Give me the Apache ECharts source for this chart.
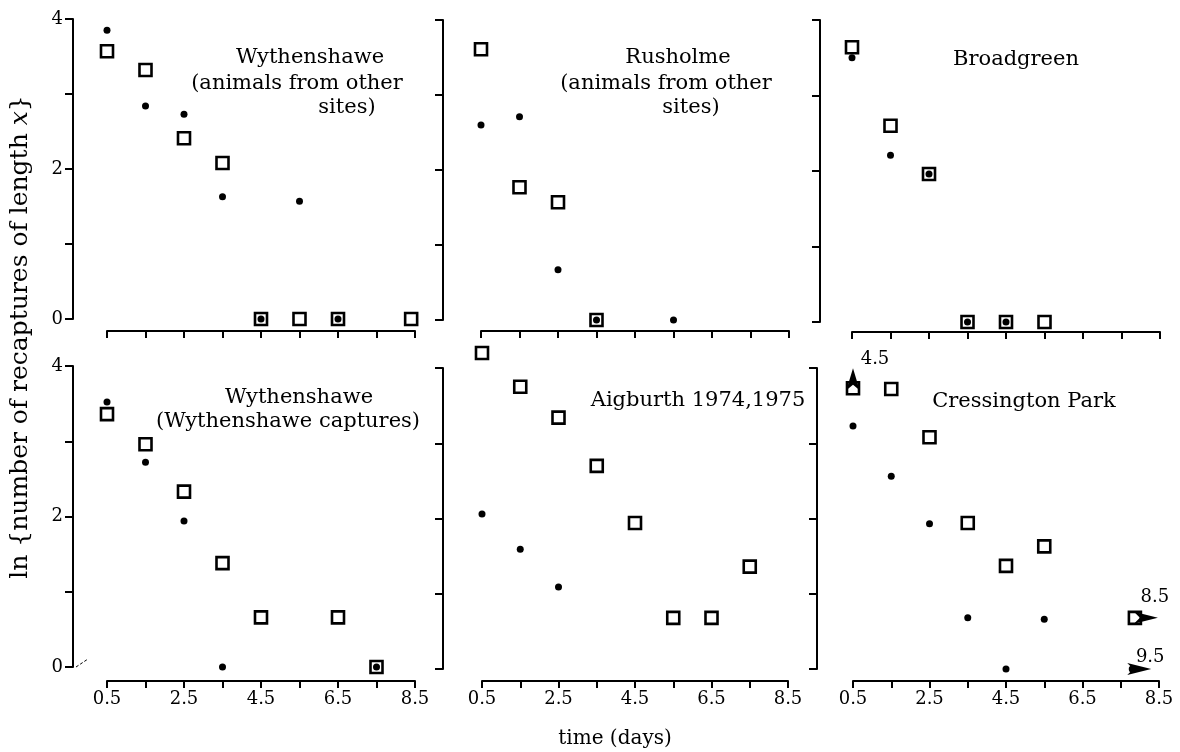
<!DOCTYPE html>
<html>
<head>
<meta charset="utf-8">
<script src="https://cdn.jsdelivr.net/npm/echarts@6/dist/echarts.min.js"></script>
<style>
html,body{margin:0;padding:0;background:#fff;}
#chart{width:1180px;height:752px;}
</style>
</head>
<body>
<div id="chart"></div>
<script>
// ---------- tick values / labels ----------
const xTickValues = [0.5, 1.5, 2.5, 3.5, 4.5, 5.5, 6.5, 7.5, 8.5];
const xLabelValues = [0.5, 2.5, 4.5, 6.5, 8.5];
const yLabelValues = [0, 2, 4];
const xAxisTitle = 'time (days)';
const yAxisTitleMain = 'ln {number of recaptures of length ';
const yAxisTitleVar = 'x';

// ---------- panel titles (one entry per text line) ----------
const titleWythOther = ['Wythenshawe', '(animals from other', 'sites)'];
const titleRusholme = ['Rusholme', '(animals from other', 'sites)'];
const titleBroadgreen = ['Broadgreen'];
const titleWythCapt = ['Wythenshawe', '(Wythenshawe captures)'];
const titleAigburth = ['Aigburth 1974,1975'];
const titleCressington = ['Cressington Park'];

// ---------- data: [time (days), ln(number)] ----------
const wythOtherSquares = [[0.5,3.57],[1.5,3.32],[2.5,2.41],[3.5,2.08],[4.5,0],[5.5,0],[6.5,0],[8.4,0]];
const wythOtherDots    = [[0.5,3.85],[1.5,2.84],[2.5,2.73],[3.5,1.63],[4.5,0],[5.5,1.57],[6.5,0]];

const rushSquares = [[0.5,3.61],[1.5,1.77],[2.5,1.57],[3.5,0]];
const rushDots    = [[0.5,2.6],[1.5,2.71],[2.5,0.67],[3.5,0],[5.5,0]];

const broadSquares = [[0.5,3.64],[1.5,2.6],[2.5,1.96],[3.5,0],[4.5,0],[5.5,0]];
const broadDots    = [[0.5,3.5],[1.5,2.21],[2.5,1.96],[3.5,0],[4.5,0]];

const wythCaptSquares = [[0.5,3.36],[1.5,2.96],[2.5,2.33],[3.5,1.38],[4.5,0.66],[6.5,0.66],[7.5,0]];
const wythCaptDots    = [[0.5,3.52],[1.5,2.72],[2.5,1.94],[3.5,0],[7.5,0]];

const aigSquares = [[0.5,4.2],[1.5,3.75],[2.5,3.34],[3.5,2.7],[4.5,1.94],[5.5,0.68],[6.5,0.68],[7.5,1.36]];
const aigDots    = [[0.5,2.06],[1.5,1.59],[2.5,1.09]];

const cressSquares = [[0.5,3.73],[1.5,3.72],[2.5,3.08],[3.5,1.94],[4.5,1.37],[5.5,1.63],[7.87,0.68]];
const cressDots    = [[0.5,3.23],[1.5,2.56],[2.5,1.93],[3.5,0.68],[4.5,0],[5.5,0.66],[7.8,0]];

// off-scale points (true value noted beside an arrow)
const cressOffScaleSquares = [{x:0.5, y:3.73, trueValue:'4.5', dir:'up'}, {x:7.87, y:0.68, trueValue:'8.5', dir:'right'}];
const cressOffScaleDots    = [{x:7.8, y:0, trueValue:'9.5', dir:'right'}];

// ---------- layout ----------
const FONT = 'DejaVu Serif';
const panels = [
  {grid:{left:107, top:19, width:308, height:300}, yOff:34, xOff:12, col:0, row:0, sq:wythOtherSquares, dt:wythOtherDots},
  {grid:{left:481, top:20, width:308, height:300}, yOff:38, xOff:11, col:1, row:0, sq:rushSquares, dt:rushDots},
  {grid:{left:852, top:20, width:308, height:302}, yOff:32, xOff:10, col:2, row:0, sq:broadSquares, dt:broadDots},
  {grid:{left:107, top:366, width:308, height:301}, yOff:34, xOff:14, col:0, row:1, sq:wythCaptSquares, dt:wythCaptDots},
  {grid:{left:482, top:368, width:306, height:301}, yOff:39, xOff:12, col:1, row:1, sq:aigSquares, dt:aigDots},
  {grid:{left:853, top:368, width:306, height:301}, yOff:36, xOff:12, col:2, row:1, sq:cressSquares, dt:cressDots,
   offSq:cressOffScaleSquares, offDt:cressOffScaleDots}
];
const titleLayout = [
  {lines:titleWythOther, pos:[[310,58],[297,84],[347,108]]},
  {lines:titleRusholme, pos:[[678,58],[666,84],[691,108]]},
  {lines:titleBroadgreen, pos:[[1016,60]]},
  {lines:titleWythCapt, pos:[[299,398],[288,422]]},
  {lines:titleAigburth, pos:[[698,401]]},
  {lines:titleCressington, pos:[[1024,402]]}
];

const axisLineStyle = {color:'#000', width:2};
const labelStyle = {color:'#000', fontFamily:FONT, fontSize:18};

function arrowMarks(list, isSquare) {
  const out = [];
  list.forEach(a => {
    const up = a.dir === 'up';
    out.push({
      coord:[a.x, a.y], symbol:'arrow', symbolSize: up ? [10,22] : [9,24],
      symbolRotate: up ? 0 : -90,
      symbolOffset: up ? [0,-20] : (isSquare ? [23,0] : [19,0]),
      itemStyle:{color:'#000', opacity:1}, label:{show:false}
    });
    out.push({
      coord:[a.x, a.y], symbol:'rect', symbolSize:1, itemStyle:{color:'rgba(0,0,0,0)'},
      label:{show:true, position:'inside', formatter:a.trueValue,
        offset: up ? [22,-29] : (isSquare ? [20,-21] : [18,-12]),
        color:'#000', fontFamily:FONT, fontSize:18}
    });
  });
  return out;
}

const grids = [], xAxes = [], yAxes = [], series = [], graphics = [];
panels.forEach((p, i) => {
  grids.push(Object.assign({outerBoundsMode:'none', containLabel:false}, p.grid));
  xAxes.push({
    type:'value', gridIndex:i, min:0.5, max:8.5, offset:p.xOff,
    axisLine:{show:true, onZero:false, lineStyle:axisLineStyle},
    axisTick:{show:true, length:7, customValues:xTickValues, lineStyle:axisLineStyle},
    axisLabel:Object.assign({show:p.row === 1, customValues:xLabelValues, margin:9,
      formatter:v => Number(v).toFixed(1)}, labelStyle),
    splitLine:{show:false}
  });
  yAxes.push({
    type:'value', gridIndex:i, min:0, max:4, interval:1, offset:p.yOff,
    axisLine:{show:true, onZero:false, lineStyle:axisLineStyle},
    axisTick:{show:true, length:8, lineStyle:axisLineStyle},
    axisLabel:Object.assign({show:p.col === 0, customValues:yLabelValues, margin:10,
      formatter:v => String(v)}, labelStyle),
    splitLine:{show:false}
  });
  series.push({
    type:'scatter', xAxisIndex:i, yAxisIndex:i, data:p.sq, clip:false,
    symbol:'rect', symbolSize:12,
    itemStyle:{color:'#fff', borderColor:'#000', borderWidth:2.6, opacity:1},
    emphasis:{disabled:true}, silent:true,
    markPoint: p.offSq ? {silent:true, animation:false, data:arrowMarks(p.offSq, true)} : undefined
  });
  series.push({
    type:'scatter', xAxisIndex:i, yAxisIndex:i, data:p.dt, clip:false,
    symbol:'circle', symbolSize:7,
    itemStyle:{color:'#000', opacity:1},
    emphasis:{disabled:true}, silent:true,
    markPoint: p.offDt ? {silent:true, animation:false, data:arrowMarks(p.offDt, false)} : undefined
  });
});

titleLayout.forEach(t => {
  t.lines.forEach((line, k) => {
    graphics.push({type:'text', x:t.pos[k][0], y:t.pos[k][1], silent:true,
      style:{text:line, fill:'#000', font:'21px "DejaVu Serif"', textAlign:'center', textVerticalAlign:'middle'}});
  });
});
graphics.push({type:'text', x:615, y:739, silent:true,
  style:{text:xAxisTitle, fill:'#000', font:'20px "DejaVu Serif"', textAlign:'center', textVerticalAlign:'middle'}});
graphics.push({type:'text', x:20, y:337, rotation:Math.PI/2, silent:true,
  style:{text:yAxisTitleMain + '{i|' + yAxisTitleVar + '}}', fill:'#000', font:'25px "DejaVu Serif"',
    textAlign:'center', textVerticalAlign:'middle',
    rich:{i:{fontStyle:'italic', fontFamily:FONT, fontSize:25, fill:'#000'}}}});
// small axis-break mark beside the lower-left zero
graphics.push({type:'line', silent:true, shape:{x1:76, y1:667, x2:88, y2:659},
  style:{stroke:'#000', lineWidth:1, lineDash:[3,2]}});

const chart = echarts.init(document.getElementById('chart'), null, {renderer:'canvas'});
chart.setOption({
  backgroundColor:'#fff',
  animation:false,
  grid:grids, xAxis:xAxes, yAxis:yAxes, series:series, graphic:graphics
});
</script>
</body>
</html>
